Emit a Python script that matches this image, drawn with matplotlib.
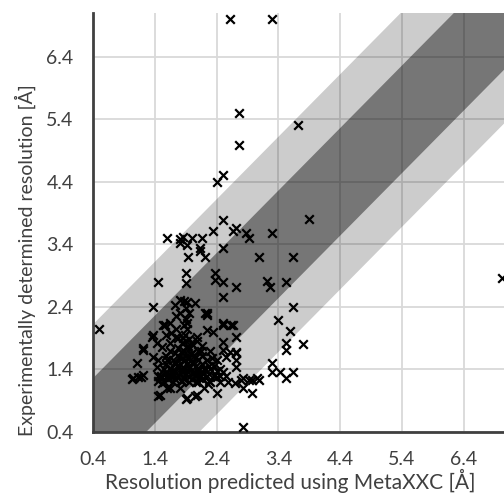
import numpy as np
import matplotlib
matplotlib.use("Agg")
import matplotlib.pyplot as plt

# ---------- data ----------
pred_sparse = [2.61, 3.30, 2.77, 3.71, 2.77, 2.40, 2.50, 2.50, 3.90,
               1.59, 1.80, 1.85, 2.01, 2.17, 2.34, 2.66, 2.71, 2.88, 2.92, 3.30, 1.92, 2.13, 2.50,
               1.80, 2.13, 2.22, 1.93, 3.09, 3.63,
               1.45, 1.90, 1.90, 2.38, 2.38, 2.50, 2.72, 3.22, 3.27, 3.53, 2.50,
               1.37, 1.72, 1.88, 2.05, 3.63, 2.22, 3.40, 0.50, 1.56, 1.88, 2.24, 2.50, 2.66,
               3.58, 2.71, 3.79, 3.53, 3.53, 2.71, 3.30, 3.30, 3.42, 3.53, 3.63, 2.80, 2.98,
               3.09, 2.98, 2.82, 1.90, 2.05, 1.45, 2.40, 1.03, 1.13, 1.18, 1.11, 1.21, 1.37,
               2.58, 2.69, 7.01]
exp_sparse = [7.00, 7.00, 5.50, 5.30, 4.99, 4.40, 4.51, 3.79, 3.81,
              3.50, 3.49, 3.52, 3.50, 3.50, 3.62, 3.62, 3.66, 3.58, 3.50, 3.58, 3.39, 3.34, 3.34,
              3.42, 3.30, 3.20, 3.20, 3.20, 3.20,
              2.80, 2.94, 2.78, 2.94, 2.83, 2.80, 2.72, 2.82, 2.72, 2.80, 2.56,
              2.40, 2.43, 2.50, 2.46, 2.40, 2.30, 2.19, 2.05, 2.11, 2.11, 2.03, 2.11, 2.11,
              2.02, 1.92, 1.81, 1.82, 1.71, 1.68, 1.50, 1.36, 1.36, 1.26, 1.36, 1.23, 1.23,
              1.23, 1.02, 0.48, 0.93, 0.98, 0.98, 1.02, 1.25, 1.28, 1.28, 1.50, 1.74, 1.95,
              1.20, 1.18, 2.86]

pred_mid = [1.80, 1.92, 1.80, 1.96, 2.24, 2.25, 1.53, 1.64, 1.92, 2.50, 2.64, 2.34,
            1.35, 1.43, 1.51, 1.64, 1.75, 1.85, 2.08, 2.50, 2.50, 2.72, 1.21, 1.05,
            1.21, 1.37, 1.43, 1.48, 1.48, 1.59, 1.92, 2.08, 2.82, 2.93, 3.05, 2.72,
            2.72, 2.56, 2.61, 2.82]
exp_mid = [2.51, 2.48, 2.30, 2.30, 2.30, 2.27, 2.11, 2.14, 2.14, 2.14, 2.11, 2.00,
           1.92, 1.82, 1.76, 1.82, 1.92, 1.90, 1.92, 1.84, 1.71, 1.66, 1.71, 1.26,
           1.31, 1.60, 1.44, 1.28, 0.99, 1.10, 0.94, 0.99, 1.26, 1.23, 1.26, 1.44,
           1.55, 1.60, 1.68, 1.10]

pred_dense = [1.88, 1.90, 1.87, 1.92, 1.89, 1.91, 1.88, 1.93, 1.90, 1.89, 1.92,
              1.78, 1.77, 1.79, 1.78, 1.77,
              2.00, 2.01, 2.00, 1.99, 2.01,
              1.50, 1.60, 1.70, 2.05, 2.15, 2.25, 2.35, 2.45, 2.55,
              1.55, 1.70, 1.95, 2.10, 2.30, 2.45,
              1.55, 1.65, 2.10, 2.20, 2.30, 2.45,
              1.60, 1.70, 2.10, 2.25, 2.40,
              1.65, 2.10, 2.30, 1.65, 1.80, 2.20,
              1.68, 1.82, 1.96, 2.12, 1.74, 2.04, 2.18, 1.62, 2.36,
              1.72, 1.72, 1.72, 1.72, 1.84, 1.84, 1.84, 1.84,
              1.96, 1.96, 1.96, 1.96, 1.96, 2.06, 2.06, 2.06, 2.06,
              2.16, 2.16, 2.16, 2.16, 2.16, 2.28, 2.28, 2.28, 2.40, 2.40,
              1.58, 1.58, 1.58, 1.58, 1.45, 1.45, 1.45, 1.66, 1.66,
              1.90, 1.90, 1.75, 1.75,
              1.80, 1.86, 1.94, 2.02, 2.10, 2.22, 1.82, 1.98, 2.14, 1.76, 2.08, 2.32,
              1.52, 1.64, 2.26, 2.50]
exp_dense = [1.25, 1.32, 1.40, 1.48, 1.55, 1.62, 1.70, 1.78, 1.85, 1.95, 2.05,
             1.30, 1.45, 1.60, 1.75, 1.90,
             1.25, 1.35, 1.50, 1.65, 1.80,
             1.30, 1.30, 1.30, 1.30, 1.30, 1.30, 1.30, 1.30, 1.30,
             1.20, 1.20, 1.20, 1.20, 1.20, 1.20,
             1.40, 1.40, 1.40, 1.40, 1.40, 1.40,
             1.55, 1.55, 1.55, 1.55, 1.55,
             1.70, 1.70, 1.70, 1.10, 1.10, 1.10,
             1.35, 1.22, 1.44, 1.26, 1.50, 1.62, 1.34, 1.24, 1.46,
             1.25, 1.38, 1.52, 1.66, 1.22, 1.36, 1.58, 1.82,
             1.28, 1.42, 1.58, 1.72, 1.88, 1.20, 1.32, 1.45, 1.60,
             1.25, 1.35, 1.48, 1.62, 1.78, 1.22, 1.32, 1.45, 1.28, 1.38,
             1.35, 1.48, 1.62, 1.95, 1.30, 1.22, 1.55, 1.98, 1.28,
             2.20, 2.38, 2.05, 2.25,
             1.34, 1.44, 1.36, 1.52, 1.38, 1.40, 1.68, 1.64, 1.70, 1.45, 1.85, 1.58,
             1.18, 1.42, 1.16, 1.36]

pred = pred_sparse + pred_mid + pred_dense
exp = exp_sparse + exp_mid + exp_dense

ticks = [0.4, 1.4, 2.4, 3.4, 4.4, 5.4, 6.4]
band_inner = 0.86
band_outer = 1.72
# -----------------------------------------------------

plt.rcParams['font.family'] = ['Lato', 'DejaVu Sans']

fig = plt.figure(figsize=(5.04, 4.96), dpi=100)
ax = fig.add_axes([0.1845, 0.129, 0.8155, 0.845])

ax.set_xlim(0.4, 7.05)
ax.set_ylim(0.4, 7.1)

line = np.array([-2.0, 10.0])
ax.fill_between(line, line - band_outer, line + band_outer, color='black', alpha=0.2,
                linewidth=0, zorder=1.5)
ax.fill_between(line, line - band_inner, line + band_inner, color='black', alpha=0.42,
                linewidth=0, zorder=1.6)

ax.scatter(pred, exp, marker='x', color='black', s=38, linewidths=1.6, zorder=3,
           clip_on=False)

ax.set_xticks(ticks)
ax.set_yticks(ticks)
ax.set_xticklabels([f"{t:.1f}" for t in ticks])
ax.set_yticklabels([f"{t:.1f}" for t in ticks])
ax.tick_params(length=0, labelsize=14, colors='#404040')
ax.tick_params(axis='x', pad=14)
ax.tick_params(axis='y', pad=14)
ax.grid(True, color='#d9d9d9', linewidth=1.3, zorder=1)
ax.set_axisbelow(True)

for side in ['top', 'right']:
    ax.spines[side].set_visible(False)
for side in ['left', 'bottom']:
    ax.spines[side].set_color('#404040')
    ax.spines[side].set_linewidth(2)

ax.set_xlabel("Resolution predicted using MetaXXC [Å]", fontsize=15, color='#404040')
ax.set_ylabel("Experimentally determined resolution [Å]", fontsize=14, color='#404040')
ax.xaxis.set_label_coords(0.479, -0.088)
ax.yaxis.set_label_coords(-0.139, 0.41)

fig.savefig("out.png", dpi=100)
